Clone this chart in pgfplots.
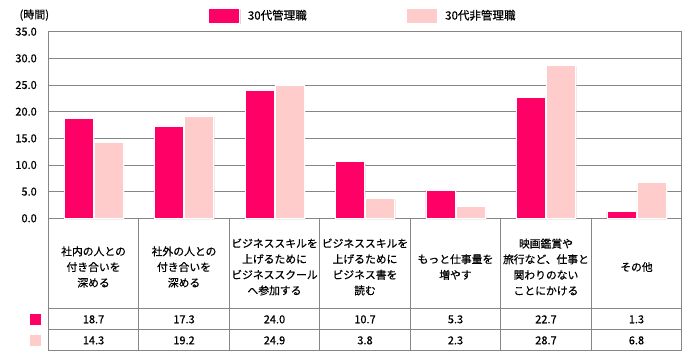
\documentclass[border=0pt]{standalone}
\usepackage{fontspec}
\setmainfont{Noto Sans CJK JP}[BoldFont={Noto Sans CJK JP}, BoldFeatures={FakeBold=0.6}]
\usepackage{pgfplots}
\pgfplotsset{compat=1.18}
\usepackage{pgfplotstable}
\usetikzlibrary{shadows}
\definecolor{mag}{HTML}{FF0066}
\definecolor{pnk}{HTML}{FFCCCC}
\definecolor{gl}{HTML}{868686}
\pgfplotsset{/pgf/number format/assume math mode=true,
  mylegimg/.style={legend image code/.code={\draw[##1] (0pt,-7.5pt) rectangle (31pt,7.5pt); \path (37pt,0pt);}}}

\pgfplotstableread{
x a b
0 18.7 14.3
1 17.3 19.2
2 24.0 24.9
3 10.7 3.8
4 5.3 2.3
5 22.7 28.7
6 1.3 6.8
}\data

\begin{document}
\begin{tikzpicture}
\useasboundingbox[fill=white] (0,0) rectangle (700pt,360pt);
\begin{axis}[
  at={(48.3pt,141.7pt)}, anchor=south west,
  scale only axis, width=633.4pt, height=186.6pt,
  xmin=-0.5, xmax=6.5, ymin=0, ymax=35,
  clip=false,
  axis line style={gl, line width=0.8pt},
  ymajorgrids, grid style={gl, line width=0.8pt},
  major tick length=0pt,
  ytick={0,5,...,35},
  yticklabel style={xshift=-8pt, font=\bfseries\fontsize{11}{13}\selectfont, /pgf/number format/.cd, fixed, fixed zerofill, precision=1},
  xtick={0,...,6},
  xticklabels={{社内の人との\\付き合いを\\深める},{社外の人との\\付き合いを\\深める},{ビジネススキルを\\上げるために\\ビジネススクール\\へ参加する},{ビジネススキルを\\上げるために\\ビジネス書を\\読む},{もっと仕事量を\\増やす},{映画鑑賞や\\旅行など、仕事と\\関わりのない\\ことにかける},{その他}},
  xticklabel style={font=\bfseries\fontsize{10.8}{15.7}\selectfont, align=center, anchor=center, yshift=-48.7pt},
  ylabel={(時間)},
  every axis y label/.style={at={(rel axis cs:0,1)}, anchor=center, xshift=-14pt, yshift=16.7pt, font=\bfseries\fontsize{11}{13}\selectfont},
  legend style={draw=none, fill=none, at={(rel axis cs:0.2525,1)}, anchor=west, yshift=16.2pt, inner sep=0pt,
    font=\bfseries\fontsize{11.5}{13}\selectfont, /tikz/every even column/.append style={column sep=97pt}},
  legend columns=2,
]
\addplot[ybar, bar width=29pt, bar shift=-15pt, fill=mag, draw=white, line width=0.5pt,
  drop shadow={shadow xshift=1.2pt, shadow yshift=-1.2pt, opacity=0.3}, mylegimg]
  table[x=x, y=a] {\data};
\addlegendentry{30代管理職}
\addplot[ybar, bar width=29pt, bar shift=15pt, fill=pnk, draw=white, line width=0.5pt,
  drop shadow={shadow xshift=1.2pt, shadow yshift=-1.2pt, opacity=0.3}, mylegimg]
  table[x=x, y=b] {\data};
\addlegendentry{30代非管理職}

% table rows of values
\addplot[forget plot, only marks, mark=*, mark size=0pt, draw=none, fill=none,
  point meta=explicit, nodes near coords,
  every node near coord/.style={anchor=center, text=black, font=\bfseries\fontsize{11}{13}\selectfont,
    /pgf/number format/.cd, fixed, fixed zerofill, precision=1}]
  table[x=x, y expr=-18.95, meta=a] {\data};
\addplot[forget plot, only marks, mark=*, mark size=0pt, draw=none, fill=none,
  point meta=explicit, nodes near coords,
  every node near coord/.style={anchor=center, text=black, font=\bfseries\fontsize{11}{13}\selectfont,
    /pgf/number format/.cd, fixed, fixed zerofill, precision=1}]
  table[x=x, y expr=-22.9, meta=b] {\data};

% row keys
\addplot[forget plot, only marks, mark=square*, mark size=5pt, mag,
  mark options={drop shadow={shadow xshift=1pt, shadow yshift=-1pt, opacity=0.3}}]
  coordinates {(-0.647,-18.95)};
\addplot[forget plot, only marks, mark=square*, mark size=5pt, pnk,
  mark options={drop shadow={shadow xshift=1pt, shadow yshift=-1pt, opacity=0.3}}]
  coordinates {(-0.647,-22.9)};

% table grid
\draw[gl, line width=0.8pt]
  (axis cs:-0.5,-16.88) -- (axis cs:6.5,-16.88)
  (axis cs:-0.5,-20.9) -- (axis cs:6.5,-20.9)
  (axis cs:-0.5,-24.76) -- (axis cs:6.5,-24.76)
  (axis cs:-0.5,0) -- (axis cs:-0.5,-24.76)
  (axis cs:0.5,0) -- (axis cs:0.5,-24.76)
  (axis cs:1.5,0) -- (axis cs:1.5,-24.76)
  (axis cs:2.5,0) -- (axis cs:2.5,-24.76)
  (axis cs:3.5,0) -- (axis cs:3.5,-24.76)
  (axis cs:4.5,0) -- (axis cs:4.5,-24.76)
  (axis cs:5.5,0) -- (axis cs:5.5,-24.76)
  (axis cs:6.5,0) -- (axis cs:6.5,-24.76);
\end{axis}
\end{tikzpicture}
\end{document}
